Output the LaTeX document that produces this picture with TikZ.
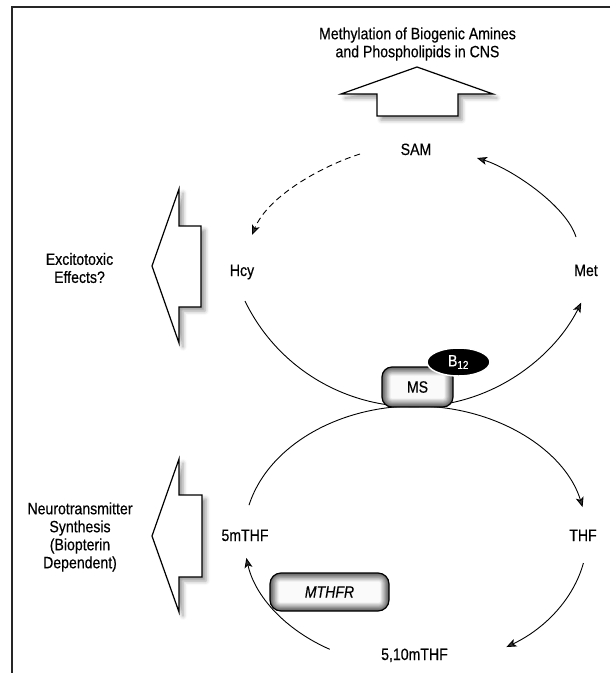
\documentclass[tikz,border=0pt]{standalone}
\usepackage{fontspec}
\setmainfont{Liberation Sans}[FakeStretch=0.86,FakeBold=0.4]
\usetikzlibrary{arrows.meta,shapes.geometric,shadows.blur}
\tikzset{
  lbl/.style={font=\fontsize{16.4}{18}\selectfont, inner sep=0pt},
  framec/.style={draw=black!85, line width=1.2pt},
  bigarrow/.style={draw=black, line width=1.2pt, fill=white, line join=miter,
    blur shadow={shadow xshift=4pt, shadow yshift=-4pt, shadow blur radius=4pt, shadow opacity=40}},
  conn/.style={line width=0.9pt, -{Stealth[length=10pt,width=8pt,inset=2.5pt]}},
  dashconn/.style={conn, dash pattern=on 6pt off 4pt},
  enzyme/.style={draw=black, line width=1.2pt, rounded corners=10pt, inner sep=0pt,
    font=\fontsize{16.4}{18}\selectfont, fill=white,
    path picture={
      \foreach \k in {0,...,10}{
        \pgfmathtruncatemacro\c{64-6.2*\k}
        \pgfmathsetmacro\r{max(10-0.85*\k,1)}
        \fill[black!\c, rounded corners=\r pt]
          ([xshift=\k*0.85pt, yshift=\k*0.85pt]path picture bounding box.south west)
          rectangle ([xshift=-\k*0.85pt, yshift=-\k*0.85pt]path picture bounding box.north east);
      }
    }},
  b12style/.style={ellipse, fill=black, draw=white, line width=1.5pt, inner sep=0pt,
    minimum width=63pt, minimum height=28pt, text=white, font=\fontsize{16.4}{18}\selectfont}
}
\begin{document}
\begin{tikzpicture}[x=1pt, y=-1pt]
\useasboundingbox (0,0) rectangle (614,673);
% frame (top and left only)
\draw[framec] (610,7) -- (12,7) -- (12,673);

% labels
\node[lbl, align=center] (title) at (417.5,44) {Methylation of Biogenic Amines\\and Phospholipids in CNS};
\node[lbl, align=center] (exc) at (79.5,268) {Excitotoxic\\Effects?};
\node[lbl, align=center] (neuro) at (80,537) {Neurotransmitter\\Synthesis\\(Biopterin\\Dependent)};
\node[lbl, anchor=base] (sam) at (416,155) {SAM};
\node[lbl, anchor=base] (hcy) at (242,276) {Hcy};
\node[lbl, anchor=base] (met) at (586,276) {Met};
\node[lbl, anchor=base] (mthf) at (245,541) {5mTHF};
\node[lbl, anchor=base] (thf) at (583,541) {THF};
\node[lbl, anchor=base] (mlthf) at (414.5,660) {5,10mTHF};

% big block arrows
\draw[bigarrow] (417,67) -- (493,94) -- (458,94) -- (458,116) -- (377,116) -- (377,94) -- (341,94) -- cycle;
\draw[bigarrow] (152,266) -- (179,189) -- (179,226) -- (201,226) -- (201,307) -- (179,307) -- (179,343) -- cycle;
\draw[bigarrow] (152,536) -- (179,459) -- (179,495) -- (202,495) -- (202,577) -- (179,577) -- (179,612) -- cycle;

% curve end points
\coordinate (hcyB) at (245.0,301.1);
\coordinate (hcyT) at (252,235);
\coordinate (samL) at (360,154);
\coordinate (samR) at (477,158);
\coordinate (metT) at (576,237);
\coordinate (mthfB) at (249.0,505.1);
\coordinate (thfB) at (583.4,563.1);
\coordinate (mlthfR) at (329.75,649.3);

% upper cycle
\draw[conn] (hcyB) arc[start angle=154.1, end angle=26.4, radius=187.3];
\draw[conn] (metT) .. controls (566,205) and (510,168) .. (samR);
\draw[dashconn] (samL) .. controls (322,166) and (268,196) .. (hcyT);

% lower cycle
\draw[conn] (mthfB) arc[start angle=-166.1, end angle=-13, x radius=171.5, y radius=130.4];
\draw[conn] (thfB) arc[start angle=11.8, end angle=58, x radius=171.5, y radius=130.4];
\draw[conn] (mlthfR) arc[start angle=120, end angle=170.5, x radius=171.5, y radius=130.4];

% enzymes
\node[enzyme, minimum width=71pt, minimum height=40pt] (ms) at (417.5,387) {MS};
\node[b12style] (b12) at (458.5,362) {B\textsubscript{12}};
\node[enzyme, minimum width=119pt, minimum height=38pt, rounded corners=11pt] (mthfr) at (329.5,592) {\itshape MTHFR};
\end{tikzpicture}
\end{document}
